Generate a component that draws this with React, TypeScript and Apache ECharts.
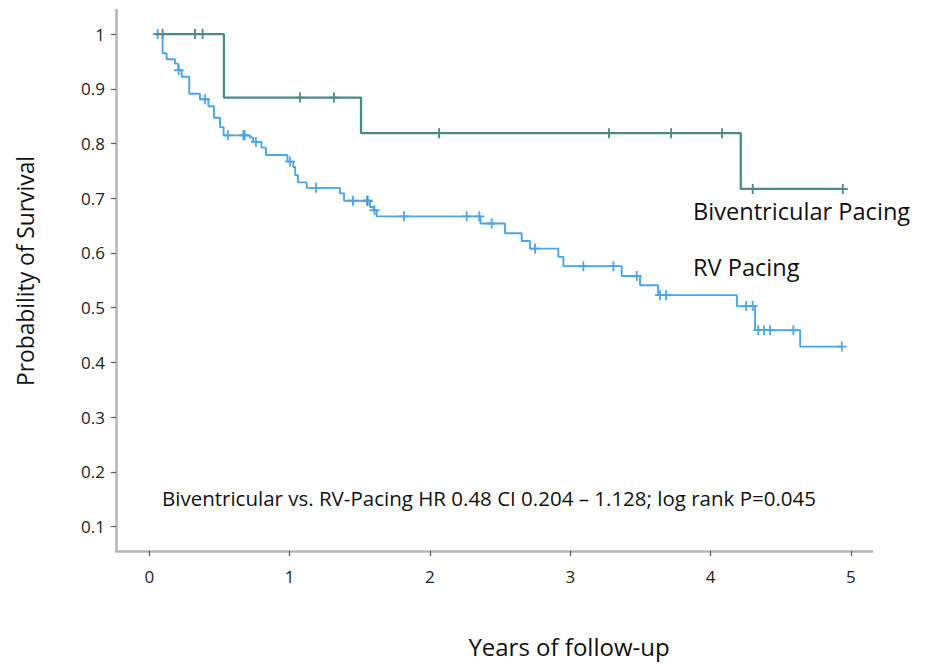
import React, { useEffect, useRef } from "react";
import * as echarts from "echarts";

// Biventricular pacing: Kaplan-Meier step points (time, survival after step)
const bivTimes = [0.04, 0.532, 1.509, 4.215, 4.942];
const bivSurv = [1, 0.884, 0.819, 0.717, 0.717];
const bivCensor = [0.095, 0.326, 0.38, 1.074, 1.316, 2.065, 3.276, 3.718, 4.081, 4.3, 4.942];

// RV pacing
const rvTimes = [
  0.04, 0.095, 0.124, 0.183, 0.207, 0.231, 0.285, 0.361, 0.421, 0.461, 0.504, 0.53,
  0.718, 0.74, 0.8, 0.832, 0.985, 1.026, 1.04, 1.06, 1.122, 1.359, 1.388, 1.573,
  1.597, 1.62, 2.36, 2.535, 2.654, 2.713, 2.915, 2.951, 3.367, 3.497, 3.626, 4.187,
  4.317, 4.638, 4.935,
];
const rvSurv = [
  1, 0.965, 0.954, 0.946, 0.934, 0.922, 0.891, 0.881, 0.868, 0.847, 0.83, 0.815,
  0.811, 0.803, 0.7925, 0.779, 0.767, 0.757, 0.742, 0.729, 0.719, 0.709, 0.6955, 0.684,
  0.678, 0.667, 0.654, 0.636, 0.622, 0.608, 0.593, 0.576, 0.558, 0.541, 0.523, 0.503,
  0.459, 0.429, 0.429,
];
const rvCensor = [
  0.06, 0.21, 0.397, 0.56, 0.67, 0.68, 0.76, 1.003, 1.188, 1.452, 1.552, 1.557, 1.605,
  1.815, 2.262, 2.352, 2.44, 2.749, 3.093, 3.307, 3.474, 3.64, 3.683, 4.253, 4.3, 4.34,
  4.381, 4.424, 4.59, 4.935,
];

const xTicks = [0, 1, 2, 3, 4, 5];
const yTicks = [0.1, 0.2, 0.3, 0.4, 0.5, 0.6, 0.7, 0.8, 0.9, 1];

const seriesNames = ["Biventricular Pacing", "RV Pacing"];
const annotation = "Biventricular vs. RV-Pacing HR 0.48 CI 0.204 \u2013 1.128; log rank P=0.045";
const xName = "Years of follow-up";
const yName = "Probability of Survival";

const FONT = "'Open Sans', 'Noto Sans', sans-serif";
const PLUS = "path://M3.25,0H4.75V3.25H8V4.75H4.75V8H3.25V4.75H0V3.25H3.25Z";

function levelAt(times: number[], surv: number[], t: number) {
  let s = surv[0];
  for (let i = 0; i < times.length; i++) {
    if (times[i] <= t) s = surv[i];
  }
  return s;
}

export default function App() {
  const ref = useRef<HTMLDivElement>(null);
  useEffect(() => {
    if (!ref.current) return;
    const chart = echarts.init(ref.current, null, { renderer: "svg" });
    const bivLine = bivTimes.map((t, i) => [t, bivSurv[i]]);
    const rvLine = rvTimes.map((t, i) => [t, rvSurv[i]]);
    const bivC = bivCensor.map((t) => [t, levelAt(bivTimes, bivSurv, t)]);
    const rvC = rvCensor.map((t) => [t, levelAt(rvTimes, rvSurv, t)]);
    const teal = "#4a8c84";
    const tealDark = "#2a6d65";
    const blue = "#4ba5e9";
    const blueDark = "#2f90dc";
    chart.setOption({
      animation: false,
      backgroundColor: "#ffffff",
      grid: { left: 116, right: 55, top: 10, bottom: 113, containLabel: false, outerBoundsMode: "none" },
      xAxis: {
        type: "value",
        min: -0.237,
        max: 5.15,
        axisLine: { show: true, onZero: false, lineStyle: { color: "#b5b5b5", width: 2.5 } },
        axisTick: { show: true, customValues: xTicks, length: 5, lineStyle: { color: "#555", width: 1.2 } },
        axisLabel: { customValues: xTicks, fontSize: 17, color: "#222", fontFamily: FONT, margin: 17 },
        splitLine: { show: false },
      },
      yAxis: {
        type: "value",
        min: 0.0555,
        max: 1.044,
        axisLine: { show: true, onZero: false, lineStyle: { color: "#b5b5b5", width: 2.5 } },
        axisTick: { show: true, customValues: yTicks, length: 5, lineStyle: { color: "#555", width: 1.2 } },
        axisLabel: {
          customValues: yTicks,
          fontSize: 17,
          color: "#222",
          fontFamily: FONT,
          margin: 11,
          formatter: (v: number) => (Math.abs(v - 1) < 1e-6 ? "1" : v.toFixed(1)),
        },
        splitLine: { show: false },
      },
      series: [
        {
          name: seriesNames[1],
          type: "line",
          step: "end",
          data: rvLine,
          showSymbol: false,
          lineStyle: { color: blue, width: 1.9 },
        },
        {
          name: seriesNames[0],
          type: "line",
          step: "end",
          data: bivLine,
          showSymbol: false,
          lineStyle: { color: teal, width: 2.3 },
        },
        {
          type: "scatter",
          data: rvC,
          symbol: PLUS,
          symbolSize: 10,
          itemStyle: { color: blueDark },
        },
        {
          type: "scatter",
          data: bivC,
          symbol: PLUS,
          symbolSize: 10,
          itemStyle: { color: tealDark },
        },
      ],
      graphic: [
        { type: "text", style: { text: seriesNames[0], x: 693, y: 211, font: `23.6px ${FONT}`, fill: "#111", verticalAlign: "middle" } },
        { type: "text", style: { text: seriesNames[1], x: 693, y: 267, font: `23.6px ${FONT}`, fill: "#111", verticalAlign: "middle" } },
        { type: "text", style: { text: annotation, x: 489, y: 498, font: `20.5px ${FONT}`, fill: "#111", align: "center", verticalAlign: "middle" } },
        { type: "text", style: { text: xName, x: 569, y: 646, font: `24px ${FONT}`, fill: "#111", align: "center", verticalAlign: "middle" } },
        { type: "text", x: 25, y: 271, rotation: Math.PI / 2, style: { text: yName, x: 0, y: 0, font: `22.8px ${FONT}`, fill: "#111", align: "center", verticalAlign: "middle" } },
      ],
    });
    return () => chart.dispose();
  }, []);
  return <div ref={ref} style={{ position: "fixed", left: 0, top: 0, width: 927, height: 664 }} />;
}
